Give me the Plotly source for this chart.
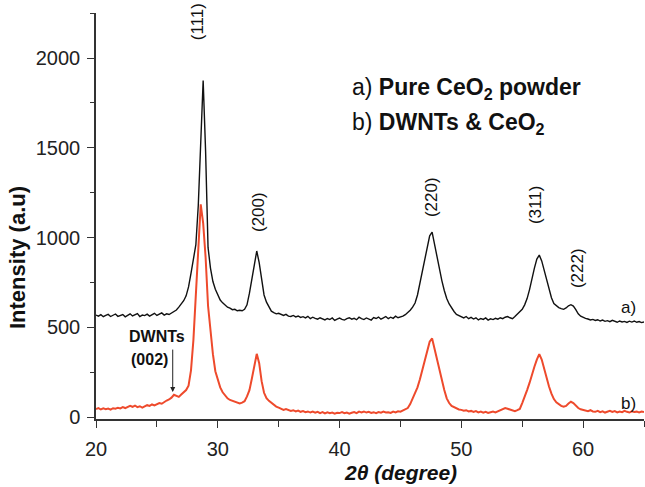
import plotly.graph_objects as go

# 2-theta sampling grid (0.2 degree step, 20 -> 65)
two_theta = [round(20 + 0.2 * i, 1) for i in range(226)]

# a) Pure CeO2 powder (values read from the picture)
pure_ceo2 = [
    568, 562, 570, 559, 566,   # 20
    572, 560, 565, 574, 561,   # 21
    567, 571, 558, 566, 575,   # 22
    563, 569, 576, 560, 568,   # 23
    565, 573, 562, 570, 578,   # 24
    566, 572, 580, 568, 575,   # 25
    571, 579, 585, 596, 612,   # 26
    630, 648, 675, 725, 800,   # 27
    870, 960, 1180, 1510, 1875,  # 28
    1480, 945, 830, 755, 712,  # 29
    685, 652, 636, 622, 612,   # 30
    607, 598, 600, 592, 595,   # 31
    592, 600, 625, 690, 770,   # 32
    850, 925, 860, 760, 680,   # 33
    640, 612, 590, 582, 575,   # 34
    578, 570, 566, 572, 562,   # 35
    560, 566, 558, 563, 555,   # 36
    559, 552, 561, 548, 556,   # 37
    550, 545, 553, 548, 541,   # 38
    549, 543, 552, 538, 546,   # 39
    551, 544, 540, 548, 553,   # 40
    545, 550, 542, 556, 548,   # 41
    543, 552, 547, 540, 554,   # 42
    549, 557, 545, 552, 560,   # 43
    548, 556, 550, 562, 553,   # 44
    556, 562, 570, 580, 595,   # 45
    612, 635, 680, 745, 810,   # 46
    890, 960, 1010, 1030, 960,  # 47
    900, 840, 760, 705, 660,   # 48
    630, 605, 588, 572, 565,   # 49
    558, 552, 560, 548, 555,   # 50
    546, 553, 541, 549, 544,   # 51
    552, 540, 547, 543, 550,   # 52
    545, 553, 548, 556, 560,   # 53
    553, 548, 560, 572, 585,   # 54
    600, 625, 660, 710, 775,   # 55
    830, 880, 902, 870, 820,   # 56
    760, 705, 665, 632, 618,   # 57
    610, 604, 600, 608, 620,   # 58
    626, 618, 598, 575, 562,   # 59
    555, 550, 546, 541, 544,   # 60
    538, 542, 535, 540, 533,   # 61
    537, 531, 539, 534, 528,   # 62
    535, 530, 533, 527, 534,   # 63
    529, 535, 528, 532, 526,   # 64
    530,                       # 65
]

# b) DWNTs & CeO2 (values read from the picture)
dwnts_ceo2 = [
    45, 50, 42, 48, 44,        # 20
    47, 41, 49, 46, 52,        # 21
    48, 55, 50, 58, 62,        # 22
    57, 64, 55, 60, 52,        # 23
    58, 66, 62, 70, 65,        # 24
    72, 78, 74, 85, 92,        # 25
    98, 108, 124, 116, 112,    # 26
    125, 138, 150, 175, 260,   # 27
    430, 710, 950, 1185, 1080,  # 28
    890, 620, 470, 350, 255,   # 29
    205, 165, 138, 120, 104,   # 30
    95, 90, 84, 80, 76,        # 31
    80, 88, 115, 150, 215,     # 32
    290, 352, 300, 200, 135,   # 33
    105, 90, 78, 66, 58,       # 34
    52, 47, 40, 44, 37,        # 35
    34, 38, 31, 36, 29,        # 36
    33, 27, 31, 25, 30,        # 37
    24, 29, 22, 27, 20,        # 38
    26, 21, 25, 19, 24,        # 39
    22, 27, 21, 25, 19,        # 40
    24, 28, 22, 30, 26,        # 41
    31, 25, 29, 23, 27,        # 42
    22, 28, 24, 30, 25,        # 43
    27, 23, 30, 26, 32,        # 44
    30, 36, 42, 50, 72,        # 45
    100, 135, 165, 210, 262,   # 46
    320, 373, 420, 438, 380,   # 47
    310, 250, 206, 150, 104,   # 48
    78, 62, 55, 48, 42,        # 49
    40, 35, 38, 31, 34,        # 50
    28, 33, 26, 30, 24,        # 51
    29, 23, 27, 31, 26,        # 52
    33, 38, 44, 50, 46,        # 53
    40, 36, 32, 38, 45,        # 54
    78, 110, 150, 190, 240,    # 55
    280, 320, 350, 320, 270,   # 56
    210, 170, 130, 100, 82,    # 57
    70, 62, 57, 62, 75,        # 58
    85, 78, 62, 50, 43,        # 59
    40, 36, 33, 38, 31,        # 60
    29, 34, 27, 32, 25,        # 61
    30, 35, 28, 33, 26,        # 62
    31, 27, 34, 29, 25,        # 63
    32, 28, 30, 26, 31,        # 64
    28,                        # 65
]

# Peak (hkl) labels
peak_labels = ["(111)", "(200)", "(220)", "(311)", "(222)"]
peak_label_x = [28.3, 33.3, 47.6, 56.05, 59.5]
peak_label_y = [2200, 1142, 1226, 1181, 830]

x_ticks = [20, 30, 40, 50, 60]
y_ticks = [0, 500, 1000, 1500, 2000]

FONT = "Liberation Sans, Arial, sans-serif"
RED = "#ee4a2c"

fig = go.Figure()
fig.add_trace(go.Scatter(x=two_theta, y=pure_ceo2, mode="lines",
                         line=dict(color="#111111", width=1.4), showlegend=False))
fig.add_trace(go.Scatter(x=two_theta, y=dwnts_ceo2, mode="lines",
                         line=dict(color=RED, width=2), showlegend=False))

ann = []
for t, px, py in zip(peak_labels, peak_label_x, peak_label_y):
    ann.append(dict(x=px, y=py, xref="x", yref="y", text=t, showarrow=False,
                    textangle=-90, font=dict(family=FONT, size=17, color="#111")))

ann += [
    dict(x=40.85, y=1833, xref="x", yref="y", xanchor="left", yanchor="middle",
         text="a) <b>Pure CeO<sub>2</sub> powder</b>", showarrow=False,
         font=dict(family=FONT, size=23, color="#111")),
    dict(x=40.85, y=1638, xref="x", yref="y", xanchor="left", yanchor="middle",
         text="b) <b>DWNTs &amp; CeO<sub>2</sub></b>", showarrow=False,
         font=dict(family=FONT, size=23, color="#111")),
    dict(x=63.7, y=613, xref="x", yref="y", text="a)", showarrow=False,
         font=dict(family=FONT, size=17, color="#111")),
    dict(x=63.7, y=78, xref="x", yref="y", text="b)", showarrow=False,
         font=dict(family=FONT, size=17, color="#111")),
    dict(x=25.0, y=446, xref="x", yref="y", text="<b>DWNTs</b>", showarrow=False,
         font=dict(family=FONT, size=16, color="#111")),
    dict(x=24.4, y=318, xref="x", yref="y", text="<b>(002)</b>", showarrow=False,
         font=dict(family=FONT, size=16, color="#111")),
    dict(x=26.3, y=139, xref="x", yref="y", text="", showarrow=True,
         ax=0, ay=-44, arrowhead=2, arrowsize=1, arrowwidth=1, arrowcolor="#222"),
    dict(x=-0.142, y=0.397, xref="paper", yref="paper", xanchor="center",
         yanchor="middle", text="<b>Intensity (a.u)</b>",
         textangle=-90, showarrow=False, font=dict(family=FONT, size=22, color="#111")),
    dict(x=0.555, y=-0.133, xref="paper", yref="paper", xanchor="center",
         yanchor="middle", text="<b><i>2θ (degree)</i></b>",
         showarrow=False, font=dict(family=FONT, size=21, color="#111")),
]

fig.update_layout(
    width=645, height=487,
    margin=dict(l=96, r=1, t=13, b=68, autoexpand=False),
    paper_bgcolor="white", plot_bgcolor="white",
    annotations=ann,
    font=dict(family=FONT, size=18, color="#222"),
)
fig.update_xaxes(range=[20, 65], tickvals=x_ticks, ticks="outside", ticklen=7,
                 tickwidth=1.3, tickcolor="#333", showline=True, linecolor="#333",
                 linewidth=1.5, showgrid=False, zeroline=False, automargin=False,
                 ticklabelstandoff=4,
                 tickfont=dict(family=FONT, size=20, color="#222"),
                 minor=dict(dtick=5, tick0=20, ticks="outside", ticklen=6,
                            tickcolor="#333", tickwidth=1.3))
fig.update_yaxes(range=[-11, 2251], tickvals=y_ticks, ticks="outside", ticklen=7,
                 tickwidth=1.3, tickcolor="#333", showline=True, linecolor="#333",
                 linewidth=1.5, showgrid=False, zeroline=False, automargin=False,
                 ticklabelstandoff=3,
                 tickfont=dict(family=FONT, size=20, color="#222"),
                 minor=dict(dtick=250, tick0=0, ticks="outside", ticklen=4,
                            tickcolor="#333", tickwidth=1.3))

fig.write_html(
    "out.html",
    config={"displayModeBar": False},
    post_script="document.body.style.margin='0';document.body.style.overflow='hidden';",
)
